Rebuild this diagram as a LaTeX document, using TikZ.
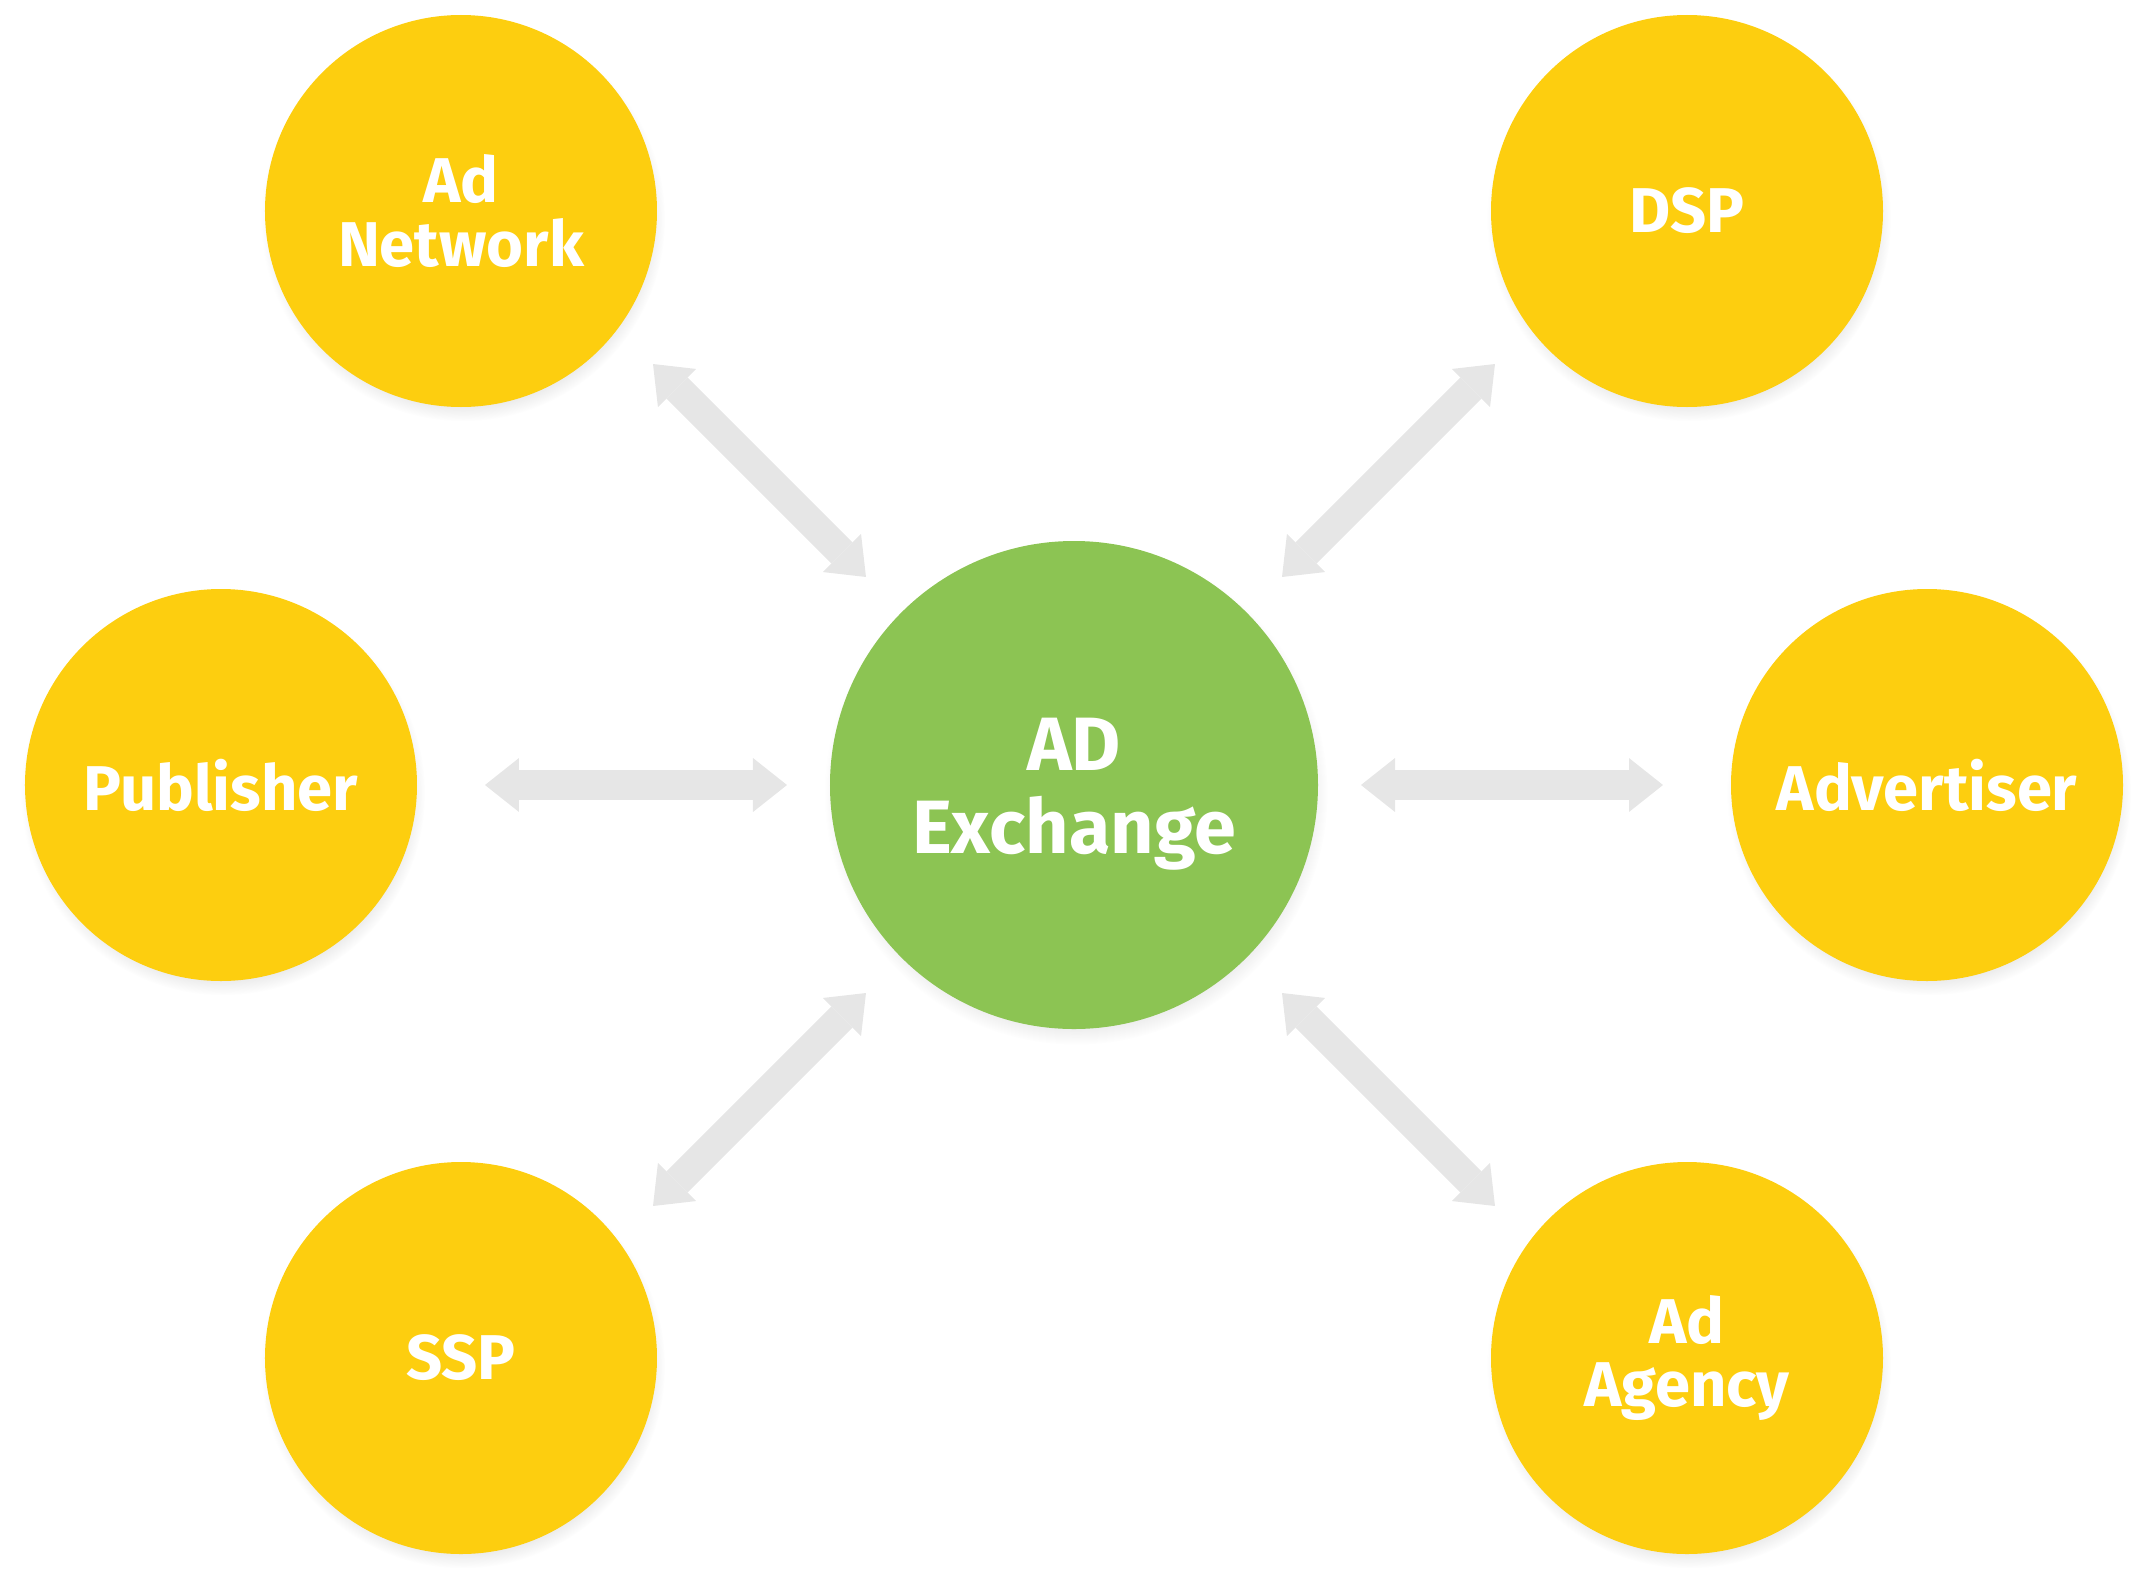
\documentclass[tikz,border=0pt]{standalone}
\usepackage{fontspec}
\setmainfont{Fira Sans}
\usetikzlibrary{arrows.meta,shadows}
\definecolor{adyellow}{HTML}{FDCE0F}
\definecolor{adgreen}{HTML}{8CC453}
\definecolor{adgray}{HTML}{E6E6E6}
\tikzset{
party/.style={circle,fill=adyellow,minimum size=3.92cm,inner sep=0pt,text=white,align=center,font=\bfseries\fontsize{18}{18.2}\selectfont,circular drop shadow={shadow scale=1.03,shadow xshift=0.02cm,shadow yshift=-0.08cm,opacity=0.3}},
hub/.style={party,fill=adgreen,minimum size=4.88cm,text height=44pt,font=\bfseries\fontsize{21.5}{23.6}\selectfont},
twoway/.style={draw=adgray,line width=0.3cm,{Triangle[length=0.34cm,width=0.54cm,line width=0pt]}-{Triangle[length=0.34cm,width=0.54cm,line width=0pt]}}
}
\begin{document}
\begin{tikzpicture}
\useasboundingbox (-10.74,-8.02) rectangle (10.77,7.85);
\node[hub] (ex) at (0,0){AD\\Exchange};
\node[party] (an) at (-6.13,5.74){Ad\\Network};\node[party] (dsp) at (6.13,5.74){DSP};
\node[party] (pub) at (-8.53,0){Publisher};\node[party] (adv) at (8.53,0){Advertiser};
\node[party] (ssp) at (-6.13,-5.73){SSP};\node[party] (ag) at (6.13,-5.73){Ad\\Agency};
\draw[twoway] ([shift={(1.92,-1.53)}]an.center) -- ([shift={(-2.08,2.08)}]ex.center);
\draw[twoway] ([shift={(-1.92,-1.53)}]dsp.center) -- ([shift={(2.08,2.08)}]ex.center);
\draw[twoway] ([xshift=2.64cm]pub.center) -- ([xshift=-2.87cm]ex.center);
\draw[twoway] ([xshift=-2.64cm]adv.center) -- ([xshift=2.87cm]ex.center);
\draw[twoway] ([shift={(1.92,1.52)}]ssp.center) -- ([shift={(-2.08,-2.08)}]ex.center);
\draw[twoway] ([shift={(-1.92,1.52)}]ag.center) -- ([shift={(2.08,-2.08)}]ex.center);
\end{tikzpicture}
\end{document}
